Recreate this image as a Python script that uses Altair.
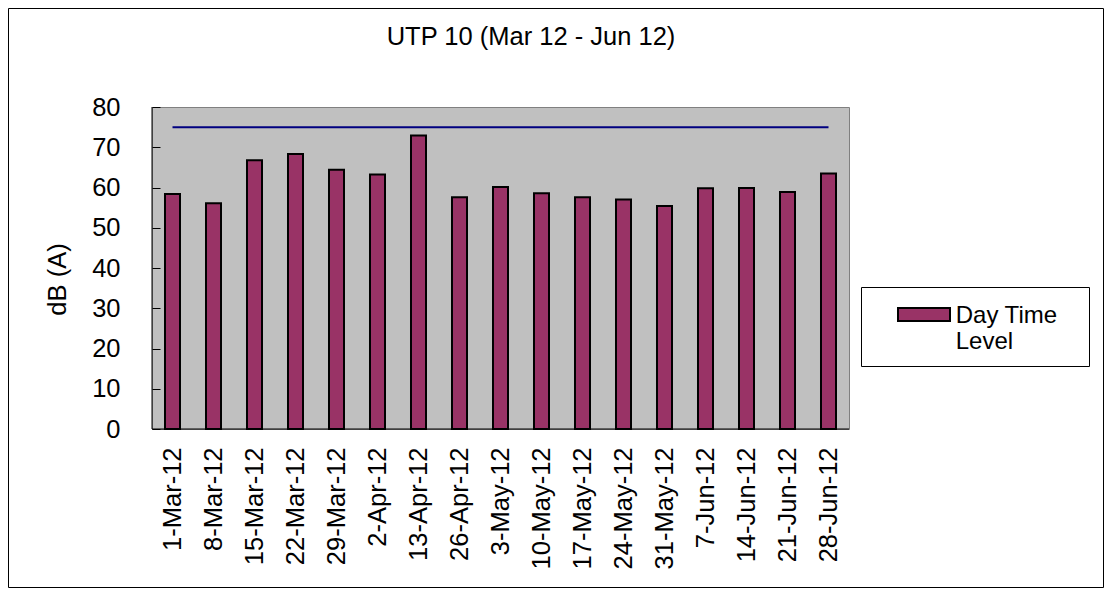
import altair as alt
import pandas as pd

dates = ["1-Mar-12", "8-Mar-12", "15-Mar-12", "22-Mar-12", "29-Mar-12", "2-Apr-12",
         "13-Apr-12", "26-Apr-12", "3-May-12", "10-May-12", "17-May-12", "24-May-12",
         "31-May-12", "7-Jun-12", "14-Jun-12", "21-Jun-12", "28-Jun-12"]
levels = [58.4, 56.1, 66.8, 68.3, 64.4, 63.2, 72.9, 57.6, 60.1, 58.6, 57.6, 57.0,
          55.4, 59.8, 59.9, 58.9, 63.5]
limit = [75, 75, 75, 75, 75, 75, 75, 75, 75, 75, 75, 75, 75, 75, 75, 75, 75]
series_name = "Day Time Level"
y_ticks = [0, 10, 20, 30, 40, 50, 60, 70, 80]

df = pd.DataFrame({"date": dates, "level": levels, "limit": limit,
                   "series": [series_name] * len(dates)})
one = pd.DataFrame({"k": [1]})

FONT = "Liberation Sans"

x_enc = alt.X(
    "date:N", sort=dates,
    scale=alt.Scale(paddingInner=0.634, paddingOuter=0.317),
    axis=alt.Axis(title="", labelAngle=270, labelFontSize=25.5, labelFont=FONT,
                  labelColor="black", tickBand="extent", tickSize=8, tickColor="black",
                  offset=-8, domain=False, labelPadding=18, grid=False),
)

y_axis = alt.Axis(values=y_ticks, title="dB (A)", titleFont=FONT, titleFontSize=25.5,
                  titleFontWeight="normal", titleColor="black", titleX=-103, titleY=172,
                  titleBaseline="middle", titleAngle=270, titleAlign="center",
                  labelFont=FONT, labelFontSize=25.5, labelColor="black", labelPadding=32,
                  tickSize=8, tickColor="black", offset=-8, domain=False, grid=False)
y_scale = alt.Scale(domain=[0, 80], nice=False)

border = alt.Chart(one).mark_rect(fillOpacity=0, stroke="black", strokeWidth=1).encode(
    x=alt.value(-143.5), x2=alt.value(951.5), y=alt.value(-98.5), y2=alt.value(480.5))

legend_box = alt.Chart(one).mark_rect(fill="white", stroke="black", strokeWidth=1).encode(
    x=alt.value(709.5), x2=alt.value(937.5), y=alt.value(180.5), y2=alt.value(259.5))

bars = alt.Chart(df).mark_bar(stroke="black", strokeWidth=2).encode(
    x=x_enc,
    y=alt.Y("level:Q", scale=y_scale, axis=y_axis),
    color=alt.Color("series:N",
                    scale=alt.Scale(domain=[series_name], range=["#993366"]),
                    legend=alt.Legend(title=None, orient="none", legendX=709, legendY=179,
                                      padding=10,
                                      labelFont=FONT, labelFontSize=24, labelColor="black",
                                      labelExpr="['Day Time', 'Level']",
                                      labelBaseline="alphabetic", labelOffset=4.7,
                                      symbolType="M-1,-0.573L1,-0.573L1,-0.073L-1,-0.073Z",
                                      symbolSize=2704, symbolStrokeColor="black",
                                      symbolStrokeWidth=2, symbolOffset=26,
                                      symbolOpacity=1, labelLimit=300)),
)

line = alt.Chart(df).mark_line(color="#000080", strokeWidth=2).encode(
    x=alt.X("date:N", sort=dates),
    y=alt.Y("limit:Q", scale=y_scale, axis=y_axis),
)

left_rule = alt.Chart(one).mark_rule(color="black", strokeWidth=1).encode(x=alt.value(0))
bottom_rule = alt.Chart(one).mark_rule(color="black", strokeWidth=1).encode(y=alt.value(322))

chart = alt.layer(border, legend_box, bars, line, left_rule, bottom_rule).properties(
    width=697, height=322,
    title=alt.Title("UTP 10 (Mar 12 - Jun 12)", fontSize=25.5, font=FONT,
                    fontWeight="normal", color="black", anchor="middle",
                    frame="group", dx=30.5, offset=-42),
    padding={"left": 144, "top": 99, "right": 255, "bottom": 159},
    autosize=alt.AutoSizeParams(type="none"),
).configure_view(fill="#C0C0C0", stroke="#808080", strokeWidth=1)

chart.save("out.html", embed_options={"renderer": "svg", "actions": False})
